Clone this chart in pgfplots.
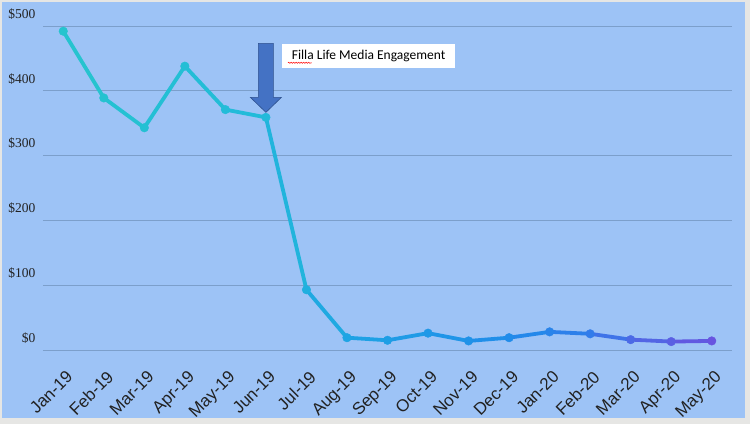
\documentclass[border=0pt]{standalone}
\usepackage{pgfplots}
\pgfplotsset{compat=1.18}
\usepackage{fontspec}
\setmainfont{Liberation Sans}
\newfontfamily\serifnum{Liberation Serif}
\newfontfamily\calibri{Carlito}
\usetikzlibrary{decorations.pathmorphing}

\definecolor{bgblue}{HTML}{9DC3F6}
\definecolor{frame}{HTML}{E6E6E4}
\definecolor{gridc}{HTML}{7C9FCB}
\definecolor{arrowfill}{HTML}{4472C4}
\definecolor{arrowline}{HTML}{2F528F}
\definecolor{labc}{HTML}{222222}

\pgfplotstableread{
idx value
0  492
1  389
2  343
3  438
4  371
5  359
6  93
7  19
8  15
9  26
10 14
11 19
12 28
13 25
14 16
15 13
16 14
}\engagement

\begin{document}
\begin{tikzpicture}
% background and frame, 1pt = 1px of the reference
\fill[frame] (-43pt,-74pt) rectangle (707pt,350pt);
\fill[bgblue] (-41pt,-68pt) rectangle (702pt,348pt);
\path[use as bounding box] (-43pt,-74pt) rectangle (707pt,350pt);
\begin{axis}[
  at={(0pt,0pt)}, anchor=south west,
  scale only axis,
  width=689pt, height=324pt,
  xmin=-0.5, xmax=16.5,
  ymin=0, ymax=500,
  axis line style={draw=none},
  major tick length=0pt,
  ytick={0,100,...,500},
  ymajorgrids,
  grid style={gridc, line width=0.9pt},
  xtick={0,...,16},
  xticklabels={Jan-19,Feb-19,Mar-19,Apr-19,May-19,Jun-19,Jul-19,Aug-19,Sep-19,Oct-19,Nov-19,Dec-19,Jan-20,Feb-20,Mar-20,Apr-20,May-20},
  x tick label style={font=\fontsize{17}{17}\selectfont, text=labc, xshift=2pt, yshift=-18pt, rotate=45, anchor=north east, inner sep=1pt},
  yticklabel={\$\pgfmathprintnumber{\tick}},
  y tick label style={font=\serifnum\fontsize{13.5}{13.5}\selectfont, text=labc, anchor=east, xshift=-4pt, yshift=12pt},
  /pgf/number format/assume math mode=true,
  colormap={fade}{rgb255(0cm)=(38,196,206) rgb255(5cm)=(34,186,218) rgb255(7cm)=(30,164,228) rgb255(11cm)=(32,140,234) rgb255(13cm)=(50,124,234) rgb255(14cm)=(76,106,230) rgb255(16cm)=(104,84,224)},
  point meta min=0, point meta max=16,
  clip=false,
]
\addplot[mesh, point meta=x, line width=3.8pt] table[x=idx, y=value] {\engagement};
\addplot[scatter, only marks, mark=*, mark size=4.3pt, point meta=x,
  scatter/use mapped color={draw=mapped color, fill=mapped color}]
  table[x=idx, y=value] {\engagement};
% annotation arrow pointing at Jun-19
\coordinate (tip) at (axis cs:5,359);
\fill[arrowfill, draw=arrowline, line width=0.6pt]
  ([shift={(0pt,5pt)}]tip) -- ++(-15.5pt,15pt) -- ++(8pt,0pt) -- ++(0pt,54pt)
  -- ++(15pt,0pt) -- ++(0pt,-54pt) -- ++(8pt,0pt) -- cycle;
\node[fill=white, inner sep=0pt, minimum width=173pt, minimum height=24pt, anchor=north west,
  font=\calibri\fontsize{13.5}{13.5}\selectfont, text=black]
  (box) at ([shift={(16pt,74pt)}]tip) {Filla Life Media Engagement};
\draw[red, line width=0.5pt, decorate, decoration={snake, amplitude=0.6pt, segment length=2.5pt}]
  ([shift={(6pt,5pt)}]box.south west) -- ++(24pt,0pt);
\end{axis}
\end{tikzpicture}
\end{document}
